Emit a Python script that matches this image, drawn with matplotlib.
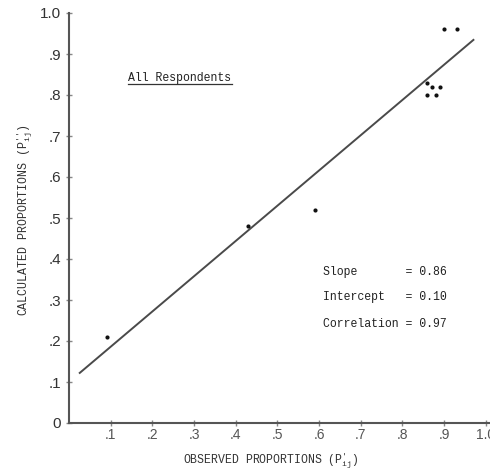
import numpy as np
import matplotlib
matplotlib.use("Agg")
import matplotlib.pyplot as plt
from matplotlib.lines import Line2D

# Observed vs. calculated proportions, all respondents
observed = [0.09, 0.43, 0.59, 0.86, 0.87, 0.89, 0.86, 0.88, 0.90, 0.93]
calculated = [0.21, 0.48, 0.52, 0.83, 0.82, 0.82, 0.80, 0.80, 0.96, 0.96]

slope = 0.86
intercept = 0.10
correlation = 0.97
fit_range = [0.024, 0.972]

x_ticks = [0.1, 0.2, 0.3, 0.4, 0.5, 0.6, 0.7, 0.8, 0.9, 1.0]
x_tick_labels = [".1", ".2", ".3", ".4", ".5", ".6", ".7", ".8", ".9", "1.0"]
y_ticks = [0.0, 0.1, 0.2, 0.3, 0.4, 0.5, 0.6, 0.7, 0.8, 0.9, 1.0]
y_tick_labels = ["0", ".1", ".2", ".3", ".4", ".5", ".6", ".7", ".8", ".9", "1.0"]

plt.rcParams["mathtext.fontset"] = "custom"
plt.rcParams["mathtext.rm"] = "Liberation Mono"
plt.rcParams["mathtext.it"] = "Liberation Mono"

mono = "Liberation Mono"
axis_color = "#555555"
W, H = 490, 471

fig = plt.figure(figsize=(W / 100, H / 100), dpi=100)
ax = fig.add_axes([69 / W, 1 - 423 / H, 421 / W, 410 / H])

ax.set_xlim(0, 1.01)
ax.set_ylim(0, 1.0)

# regression line
fx = np.array(fit_range)
ax.plot(fx, intercept + slope * fx, color="#4a4a4a", lw=1.4, solid_capstyle="butt")

# data points
ax.scatter(observed, calculated, s=9, color="#111111", zorder=3, linewidths=0)

for side in ("top", "right"):
    ax.spines[side].set_visible(False)
for side in ("left", "bottom"):
    ax.spines[side].set_color(axis_color)
    ax.spines[side].set_linewidth(1.5)

ax.set_xticks(x_ticks)
ax.set_xticklabels(x_tick_labels)
ax.set_yticks(y_ticks)
ax.set_yticklabels(y_tick_labels)
ax.tick_params(axis="both", direction="inout", length=5, width=1, color="#888888")
ax.tick_params(axis="x", pad=1, labelsize=10, labelcolor="#555555")
ax.tick_params(axis="y", pad=3, labelsize=11, labelcolor="#333333")
for lbl in ax.get_xticklabels() + ax.get_yticklabels():
    lbl.set_fontfamily("Liberation Sans")

# panel title, underlined
fig.text(128 / W, 1 - 78 / H, "All Respondents", family=mono, fontsize=8.3,
         color="#222222", va="center", ha="left")
fig.add_artist(Line2D([128 / W, 232 / W], [1 - 84 / H, 1 - 84 / H],
                      transform=fig.transFigure, color="#333333", lw=0.9))

# fit statistics
stats = [
    ("Slope       = %.2f" % slope, 272),
    ("Intercept   = %.2f" % intercept, 297),
    ("Correlation = %.2f" % correlation, 324),
]
for txt, ypix in stats:
    fig.text(323 / W, 1 - ypix / H, txt, family=mono, fontsize=8.3,
             color="#222222", va="center", ha="left")

# axis titles
fig.text(25 / W, 1 - 220 / H, r"CALCULATED PROPORTIONS (P$^{\prime\prime}_{ij}$)",
         family=mono, fontsize=8.4, color="#333333", rotation=90,
         va="center", ha="center")
fig.text(271 / W, 1 - 461 / H, r"OBSERVED PROPORTIONS (P$^{\prime}_{ij}$)",
         family=mono, fontsize=8.3, color="#333333", va="center", ha="center")

fig.savefig("out.png", dpi=100, facecolor="white")
